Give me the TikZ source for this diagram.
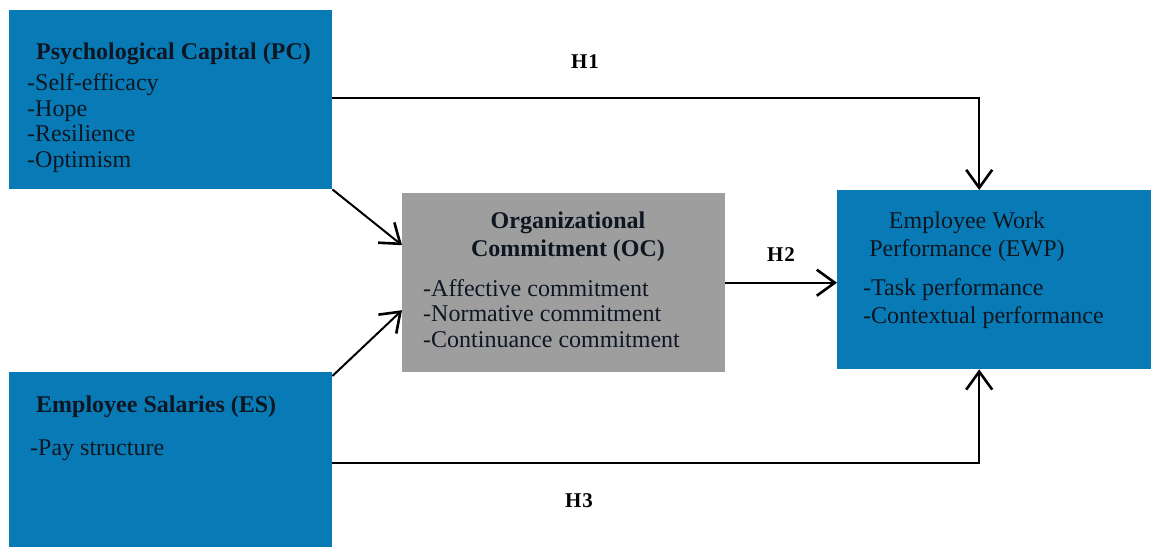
\documentclass[tikz,border=0pt]{standalone}
\usepackage{fontspec}
\setmainfont{Liberation Serif}
\usetikzlibrary{arrows.meta,positioning}
\definecolor{boxblue}{RGB}{8,123,182}
\definecolor{boxgray}{RGB}{158,158,158}
\definecolor{inktext}{RGB}{14,22,34}
\tikzset{
  conbox/.style={draw=none, fill=#1, anchor=north west, inner sep=0pt},
  ttl/.style={font=\fontsize{24}{28}\selectfont\bfseries, text=inktext, inner sep=0pt},
  itm/.style={font=\fontsize{24}{25.5}\selectfont, text=inktext, inner sep=0pt, align=left},
  hyp/.style={font=\fontsize{21}{22}\selectfont\bfseries\addfontfeature{LetterSpace=5}, inner sep=0pt},
  link/.style={line width=2pt, -{Straight Barb[length=18pt,width=26pt,line width=2.6pt]}}
}
\begin{document}
\begin{tikzpicture}[x=1pt,y=-1pt]
\useasboundingbox (0,0) rectangle (1151,547);
% boxes
\node[conbox=boxblue, minimum width=323pt, minimum height=179pt] (pc) at (9,10) {};
\node[conbox=boxblue, minimum width=323pt, minimum height=175pt] (es) at (9,372) {};
\node[conbox=boxgray, minimum width=323pt, minimum height=179pt] (oc) at (402,193) {};
\node[conbox=boxblue, minimum width=314pt, minimum height=179pt] (ewp) at (837,190) {};
% Psychological capital (base anchor = last line)
\node[ttl, anchor=base west] (pct) at (36,59) {Psychological Capital (PC)};
\node[itm, anchor=base west] (pci) at (27,167) {-Self-efficacy\\-Hope\\-Resilience\\-Optimism};
% Employee salaries
\node[ttl, anchor=base west] (est) at (36,412) {Employee Salaries (ES)};
\node[itm, anchor=base west] (esi) at (30,455) {-Pay structure};
% Organizational commitment
\node[ttl, anchor=base, align=center] (oct) at (568,256) {Organizational\\Commitment (OC)};
\node[itm, anchor=base west] (oci) at (423,347) {-Affective commitment\\-Normative commitment\\-Continuance commitment};
% Employee work performance
\node[itm, anchor=base, align=center, font=\fontsize{24}{28}\selectfont] (ewt) at (967,256) {Employee Work\\Performance (EWP)};
\node[itm, anchor=base west, font=\fontsize{24}{28}\selectfont] (ewi) at (863,323) {-Task performance\\-Contextual performance};
% connectors
\draw[link] (pc.south east) -- ([yshift=37.5pt]oc.west);
\draw[link] ([yshift=-4pt]es.north east) -- ([yshift=-27.5pt]oc.west);
\draw[link] (oc.east) -- (oc.east -| ewp.west);
\draw[link] ([yshift=1.5pt]pc.east) -| ([xshift=-15pt]ewp.north);
\draw[link] ([yshift=-3.5pt]es.east) -| ([xshift=-15pt]ewp.south);
% hypothesis labels
\node[hyp, anchor=base] (h1) at (585,68) {H1};
\node[hyp, anchor=base] (h2) at (781,261) {H2};
\node[hyp, anchor=base] (h3) at (579,507) {H3};
\end{tikzpicture}
\end{document}
